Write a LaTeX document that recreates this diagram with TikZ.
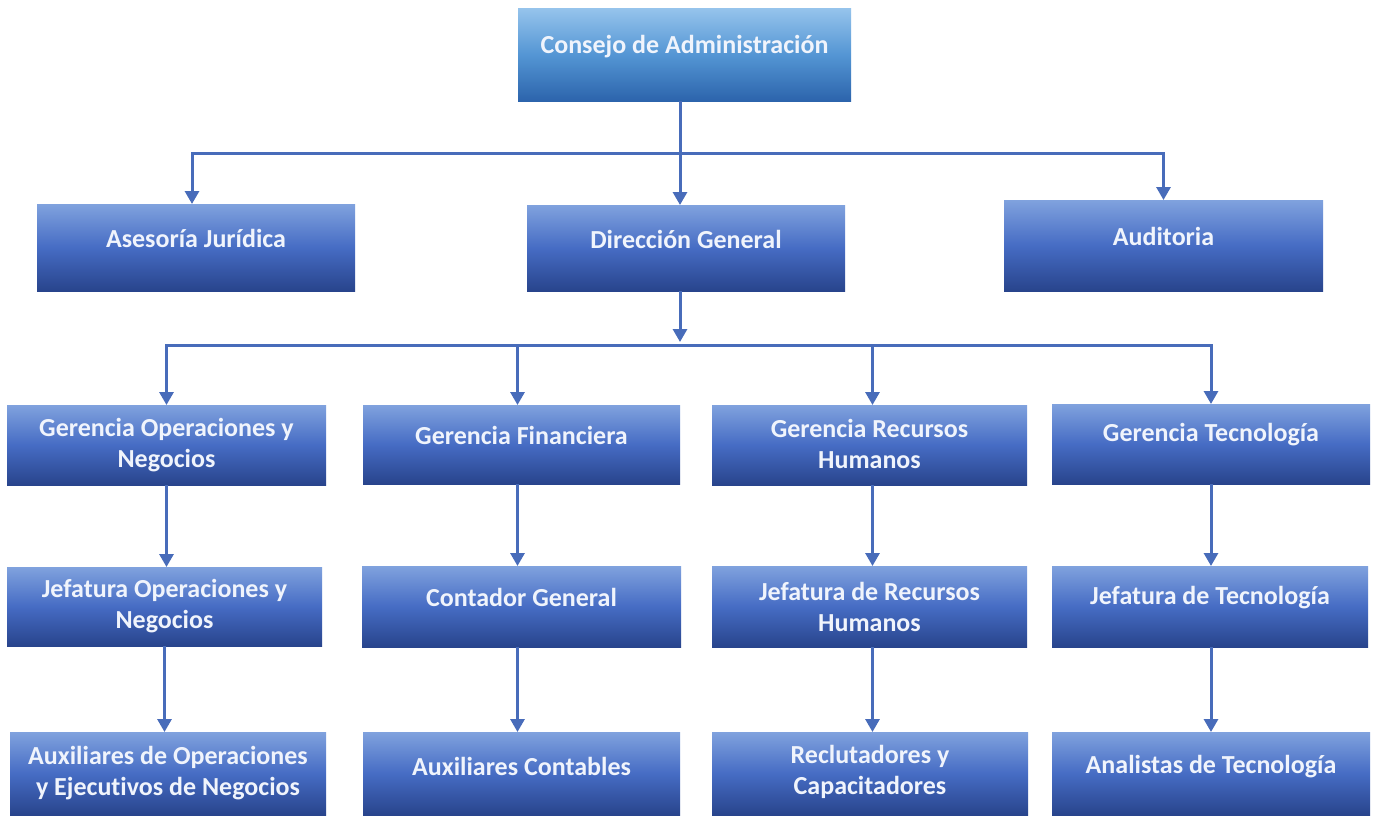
\documentclass[tikz,border=0pt]{standalone}
\usepackage{fontspec}
\setmainfont[Ligatures=NoCommon]{Carlito}
\usetikzlibrary{arrows.meta,fit,calc}
\definecolor{lnc}{RGB}{72,108,186}
\definecolor{bxtop}{RGB}{128,162,222}
\definecolor{bxmid}{RGB}{70,108,196}
\definecolor{bxbot}{RGB}{40,68,140}
\definecolor{cstop}{RGB}{150,196,236}
\definecolor{csmid}{RGB}{84,150,212}
\definecolor{csbot}{RGB}{44,100,172}
\definecolor{txt}{RGB}{240,244,252}
\begin{document}
\begin{tikzpicture}[x=0.5pt,y=-0.5pt,
  box/.style={inner sep=0pt, outer sep=0pt, draw=none, top color=bxtop, bottom color=bxbot, middle color=bxmid},
  topbox/.style={inner sep=0pt, outer sep=0pt, draw=none, top color=cstop, bottom color=csbot, middle color=csmid},
  lbl/.style={font=\bfseries\fontsize{13}{15.5}\selectfont, text=txt, align=center, inner sep=0pt},
  conn/.style={draw=lnc, line width=1.5pt, -{Triangle[width=7pt,length=6.5pt]}}]
\useasboundingbox[fill=white] (0,0) rectangle (1377,815);

% boxes
\node[topbox, fit={(518,8)(851,101)}] (consejo) {};
\node[box, fit={(37,204)(355,291)}] (asesoria) {};
\node[box, fit={(527,205)(845,291)}] (direccion) {};
\node[box, fit={(1004,200)(1323,291)}] (auditoria) {};

\node[box, fit={(7,405)(326,485)}] (gop) {};
\node[box, fit={(363,405)(680,484)}] (gfin) {};
\node[box, fit={(712,405)(1027,485)}] (grh) {};
\node[box, fit={(1052,404)(1370,484)}] (gtec) {};

\node[box, fit={(7,567)(322,646)}] (jop) {};
\node[box, fit={(362,566)(681,647)}] (cont) {};
\node[box, fit={(712,566)(1027,647)}] (jrh) {};
\node[box, fit={(1052,566)(1368,647)}] (jtec) {};

\node[box, fit={(10,732)(326,815)}] (aux) {};
\node[box, fit={(363,732)(680,815)}] (auxc) {};
\node[box, fit={(712,732)(1028,815)}] (recl) {};
\node[box, fit={(1052,732)(1370,815)}] (anal) {};

% labels
\node[lbl] (consejo-t) at ([yshift=4pt]consejo.center) {Consejo de Administración};
\node[lbl] (asesoria-t) at ([yshift=4.5pt]asesoria.center) {Asesoría Jurídica};
\node[lbl] (direccion-t) at ([yshift=4.5pt]direccion.center) {Dirección General};
\node[lbl] (auditoria-t) at ([yshift=4.5pt]auditoria.center) {Auditoria};

\node[lbl] (gop-t) at (gop.center) {Gerencia Operaciones y\\Negocios};
\node[lbl] (gfin-t) at ([yshift=4.5pt]gfin.center) {Gerencia Financiera};
\node[lbl] (grh-t) at ([yshift=0.5pt]grh.center) {Gerencia Recursos\\Humanos};
\node[lbl] (gtec-t) at ([yshift=4.5pt]gtec.center) {Gerencia Tecnología};

\node[lbl] (jop-t) at (jop.center) {Jefatura Operaciones y\\Negocios};
\node[lbl] (cont-t) at ([yshift=4.5pt]cont.center) {Contador General};
\node[lbl] (jrh-t) at (jrh.center) {Jefatura de Recursos\\Humanos};
\node[lbl] (jtec-t) at ([yshift=4.5pt]jtec.center) {Jefatura de Tecnología};

\node[lbl] (aux-t) at (aux.center) {Auxiliares de Operaciones\\y Ejecutivos de Negocios};
\node[lbl] (auxc-t) at ([yshift=3.5pt]auxc.center) {Auxiliares Contables};
\node[lbl] (recl-t) at ([yshift=1pt]recl.center) {Reclutadores y\\Capacitadores};
\node[lbl] (anal-t) at ([yshift=3.5pt]anal.center) {Analistas de Tecnología};

% connectors level 1
\coordinate (b1) at (680,153);
\draw[conn] (consejo.south -| b1) -- (direccion.north -| b1);
\draw[conn] (b1) -| ([xshift=-2pt]asesoria.north);
\draw[conn] (b1) -| (auditoria.north);

% connectors level 2
\coordinate (b2) at (680,345);
\draw[conn] (direccion.south -| b2) -- ([yshift=1.5pt]b2);
\draw[conn] (b2) -| (gop.north);
\draw[conn] (b2) -| ([xshift=-2pt]gfin.north);
\draw[conn] (b2) -| ([xshift=1.5pt]grh.north);
\draw[conn] (b2) -| (gtec.north);

% vertical chains
\draw[conn] (gop.south) -- (gop.south |- jop.north);
\draw[conn] (jop.south) -- (jop.south |- aux.north);
\draw[conn] ([xshift=-2pt]gfin.south) -- ([xshift=-2pt]gfin.south |- cont.north);
\draw[conn] ([xshift=-2pt]gfin.south |- cont.south) -- ([xshift=-2pt]gfin.south |- auxc.north);
\draw[conn] ([xshift=1.5pt]grh.south) -- ([xshift=1.5pt]grh.south |- jrh.north);
\draw[conn] ([xshift=1.5pt]grh.south |- jrh.south) -- ([xshift=1.5pt]grh.south |- recl.north);
\draw[conn] (gtec.south) -- (gtec.south |- jtec.north);
\draw[conn] (gtec.south |- jtec.south) -- (gtec.south |- anal.north);
\end{tikzpicture}
\end{document}
